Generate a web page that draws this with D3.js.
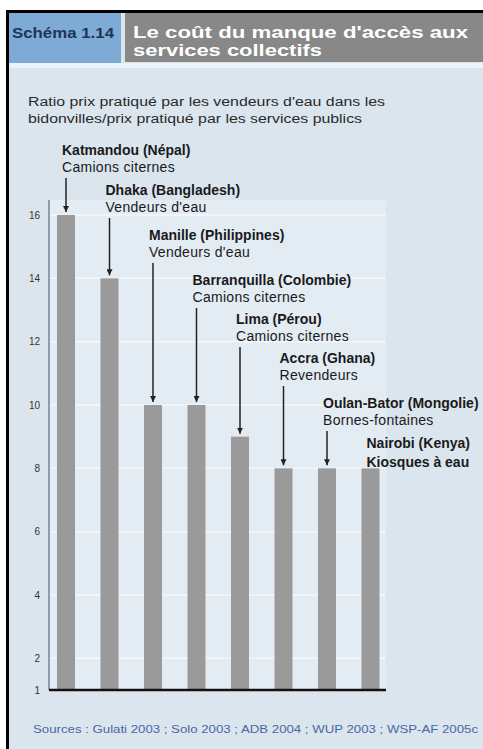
<!DOCTYPE html>
<html><head><meta charset="utf-8">
<script src="https://cdn.jsdelivr.net/npm/d3@7"></script>
<style>
html,body{margin:0;padding:0;background:#fff;}
svg{display:block;}
text{font-family:"Liberation Sans",Arial,sans-serif;}
</style></head>
<body>
<script>
// ---- data ----
const cities = ["Katmandou (Népal)","Dhaka (Bangladesh)","Manille (Philippines)","Barranquilla (Colombie)","Lima (Pérou)","Accra (Ghana)","Oulan-Bator (Mongolie)","Nairobi (Kenya)"];
const providers = ["Camions citernes","Vendeurs d'eau","Vendeurs d'eau","Camions citernes","Camions citernes","Revendeurs","Bornes-fontaines","Kiosques à eau"];
const ratios = [16,14,10,10,9,8,8,8];
const yTicks = [1,2,4,6,8,10,12,14,16];
const figNumber = "Schéma 1.14";
const titleLines = ["Le coût du manque d'accès aux","services collectifs"];
const subtitleLines = ["Ratio prix pratiqué par les vendeurs d'eau dans les","bidonvilles/prix pratiqué par les services publics"];
const sourceText = "Sources : Gulati 2003 ; Solo 2003 ; ADB 2004 ; WUP 2003 ; WSP-AF 2005c";

// ---- layout ----
const W = 483, H = 749;
const labelY = [155,195,240,285,324,363,408,448];

const svg = d3.select("body").append("svg").attr("width",W).attr("height",H);

// frame & background
svg.append("rect").attr("x",0).attr("y",0).attr("width",W).attr("height",H).attr("fill","#fff");
svg.append("rect").attr("x",7).attr("y",11).attr("width",W).attr("height",H-11).attr("fill","#dbe5ee");
svg.append("rect").attr("x",7).attr("y",63).attr("width",W).attr("height",5).attr("fill","#eef3f8");
// header boxes
svg.append("rect").attr("x",8).attr("y",12).attr("width",113).attr("height",51).attr("fill","#7eaad6");
svg.append("rect").attr("x",125).attr("y",12).attr("width",W-125).attr("height",50).attr("fill","#888888");
// border
svg.append("path").attr("d",`M7.5,${H} V11.5 H${W}`).attr("fill","none").attr("stroke","#000").attr("stroke-width",3);

svg.append("text").attr("x",12).attr("y",38).attr("fill","#1d3557")
  .attr("font-size",15).attr("font-weight","bold").attr("textLength",102).attr("lengthAdjust","spacingAndGlyphs").text(figNumber);
svg.selectAll(".title").data(titleLines).join("text").attr("class","title")
  .attr("x",133).attr("y",(d,i)=>38+i*18).attr("fill","#fff").attr("font-size",17).attr("font-weight","bold")
  .attr("textLength",(d,i)=>i===0?335:189).attr("lengthAdjust","spacingAndGlyphs").text(d=>d);

svg.selectAll(".sub").data(subtitleLines).join("text").attr("class","sub")
  .attr("x",28).attr("y",(d,i)=>106+i*17).attr("fill","#2a2a2a").attr("font-size",12.5)
  .attr("textLength",(d,i)=>i===0?357:334).attr("lengthAdjust","spacingAndGlyphs").text(d=>d);

// scales
const y = d3.scaleLinear().domain([1,16]).range([690,215]);
const x = d3.scaleBand().domain(cities).range([44.25,392.25]).paddingInner(0.586).paddingOuter(0.293);

// plot area
const plotL = 49, plotR = 386;
svg.append("rect").attr("x",plotL).attr("y",200).attr("width",plotR-plotL).attr("height",490).attr("fill","#e3ebf3");
svg.selectAll(".grid").data(yTicks.filter(t=>t>1)).join("line").attr("class","grid")
  .attr("x1",plotL).attr("x2",plotR).attr("y1",d=>y(d)).attr("y2",d=>y(d))
  .attr("stroke","#f4f8fb").attr("stroke-width",1.5);

// y axis
const yAxis = d3.axisLeft(y).tickValues(yTicks).tickSize(0).tickPadding(9);
const gy = svg.append("g").attr("transform",`translate(${plotL},0)`).call(yAxis);
gy.select(".domain").attr("stroke","#8b9bb0").attr("stroke-width",2).attr("d",`M0,200V690`);
gy.selectAll("text").attr("font-size",10).attr("fill","#333").attr("font-family","Liberation Sans, Arial, sans-serif");

// bars
svg.selectAll(".bar").data(ratios).join("rect").attr("class","bar")
  .attr("x",(d,i)=>x(cities[i])).attr("width",x.bandwidth())
  .attr("y",d=>y(d)).attr("height",d=>y(1)-y(d)).attr("fill","#9b9a9a");

// baseline
svg.append("line").attr("x1",plotL).attr("x2",plotR).attr("y1",y(1)).attr("y2",y(1)).attr("stroke","#111").attr("stroke-width",2.5);

// annotations
const defs = svg.append("defs");
defs.append("marker").attr("id","ah").attr("viewBox","0 0 10 10").attr("refX",10).attr("refY",5)
  .attr("markerWidth",6).attr("markerHeight",6).attr("markerUnits","userSpaceOnUse").attr("orient","auto")
  .append("path").attr("d","M0,0 L10,5 L0,10 z").attr("fill","#222");

const ann = svg.selectAll(".ann").data(ratios).join("g").attr("class","ann");
ann.append("text").attr("x",(d,i)=>x(cities[i])+x.bandwidth()/2-4).attr("y",(d,i)=>labelY[i])
  .attr("font-size",14).attr("fill","#1a1a1a")
  .attr("font-weight","bold").text((d,i)=>cities[i]);
ann.append("text").attr("x",(d,i)=>x(cities[i])+x.bandwidth()/2-4).attr("y",(d,i)=>labelY[i]+(i===7?19:17))
  .attr("font-size",14).attr("fill","#1a1a1a").attr("letter-spacing",(d,i)=>i===7?0:0.3)
  .attr("font-weight",(d,i)=>i===7?"bold":"normal").text((d,i)=>providers[i]);
ann.filter((d,i)=>labelY[i]+24 < y(d)-8).append("line")
  .attr("x1",(d,i)=>x(cities[i])+x.bandwidth()/2).attr("x2",(d,i)=>x(cities[i])+x.bandwidth()/2)
  .attr("y1",(d,i)=>labelY[i]+23).attr("y2",d=>y(d)-3)
  .attr("stroke","#222").attr("stroke-width",1.5).attr("marker-end","url(#ah)");

// source
svg.append("text").attr("x",33).attr("y",733).attr("fill","#4a67a6").attr("font-size",11)
  .attr("textLength",445).attr("lengthAdjust","spacingAndGlyphs").text(sourceText);
</script>
</body></html>
